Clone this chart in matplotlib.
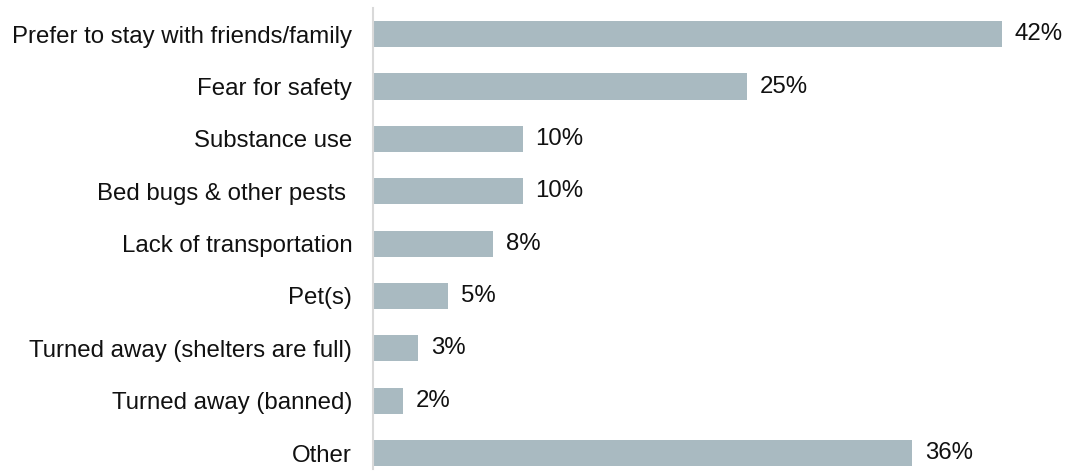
import matplotlib
matplotlib.use("Agg")
import matplotlib.pyplot as plt

reasons = [
    "Prefer to stay with friends/family",
    "Fear for safety",
    "Substance use",
    "Bed bugs & other pests ",
    "Lack of transportation",
    "Pet(s)",
    "Turned away (shelters are full)",
    "Turned away (banned)",
    "Other",
]
shares = [42, 25, 10, 10, 8, 5, 3, 2, 36]

plt.rcParams["font.family"] = ["Liberation Sans", "DejaVu Sans"]

W, H = 1077, 474
fig = plt.figure(figsize=(W / 100, H / 100), dpi=100)
ax = fig.add_axes([373 / W, 0.0, 1 - 373 / W, 1 - 8 / H])

pos = list(range(len(reasons)))
ax.barh(pos, shares, height=0.5, color="#a9bac1")
for y, v in zip(pos, shares):
    ax.text(v + 0.85, y, f"{v}%", va="center", ha="left", fontsize=17.3, color="#111111")

ax.set_xlim(0, 47)
ax.set_ylim(8.4, -0.5)
ax.set_yticks(pos)
ax.set_yticklabels(reasons, fontsize=17.3, color="#111111")
ax.tick_params(axis="y", length=0, pad=15)
ax.set_xticks([])
for side in ("top", "right", "bottom"):
    ax.spines[side].set_visible(False)
ax.spines["left"].set_color("#d9d9d9")
ax.spines["left"].set_linewidth(1.5)
ax.spines["left"].set_bounds(8.3, -0.5)

fig.savefig("out.png", dpi=100)
